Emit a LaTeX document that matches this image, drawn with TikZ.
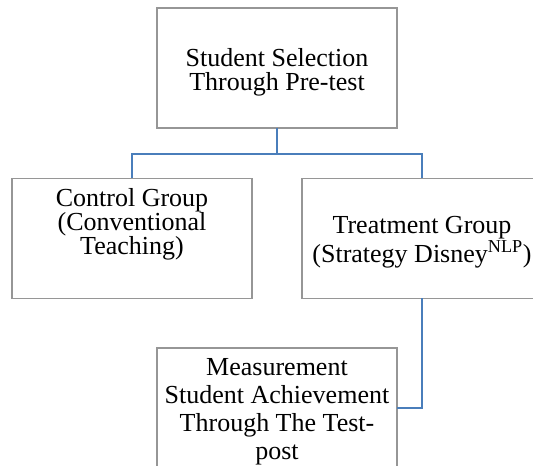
\documentclass[tikz,border=0pt]{standalone}
\usepackage{fontspec}
\setmainfont{Liberation Serif}
\usepackage{tikz}
\usetikzlibrary{positioning, calc}

\definecolor{linkblue}{RGB}{74,126,187}
\definecolor{boxgray}{RGB}{150,150,150}
\newcommand{\boxfont}{\fontsize{19.5}{18}\selectfont\lineskiplimit=-20pt\relax}

\begin{document}
\begin{tikzpicture}[x=0.75pt, y=-0.75pt,
  box/.style={draw=boxgray, line width=0.9pt, minimum width=180pt, minimum height=90pt, outer sep=0pt, inner sep=0pt},
  txt/.style={align=center, inner sep=0pt, font=\boxfont},
  link/.style={draw=linkblue, line width=1.6pt}]
\useasboundingbox (0,0) rectangle (533,466);
\clip (0,0) rectangle (533,466);

% Cajas
\node[box] (select) at (277,68) {};
\node[box] (control) at (132,238.5) {};
\node[box] (treat) at (422,238.5) {};
\node[box] (measure) at (277,408) {};

% Textos
\node[txt] (selecttxt) at (277,72.5) {Student Selection\\Through Pre-test};
\node[txt] (controltxt) at (132,224) {Control Group\\(Conventional\\Teaching)};
\node[txt, font=\fontsize{19.5}{20.5}\selectfont] (treattxt) at (422,242) {Treatment Group\\(Strategy Disney\textsuperscript{NLP})};
\node[txt, font=\fontsize{19.5}{21}\selectfont] (measuretxt) at (277,412) {Measurement\\Student Achievement\\Through The Test-\\post};

% Conectores
\draw[link] (select.south) -- ++(0,26) -| (control.north);
\draw[link] (select.south) -- ++(0,26) -| (treat.north);
\draw[link] (treat.south) |- (measure.east);

\end{tikzpicture}
\end{document}
